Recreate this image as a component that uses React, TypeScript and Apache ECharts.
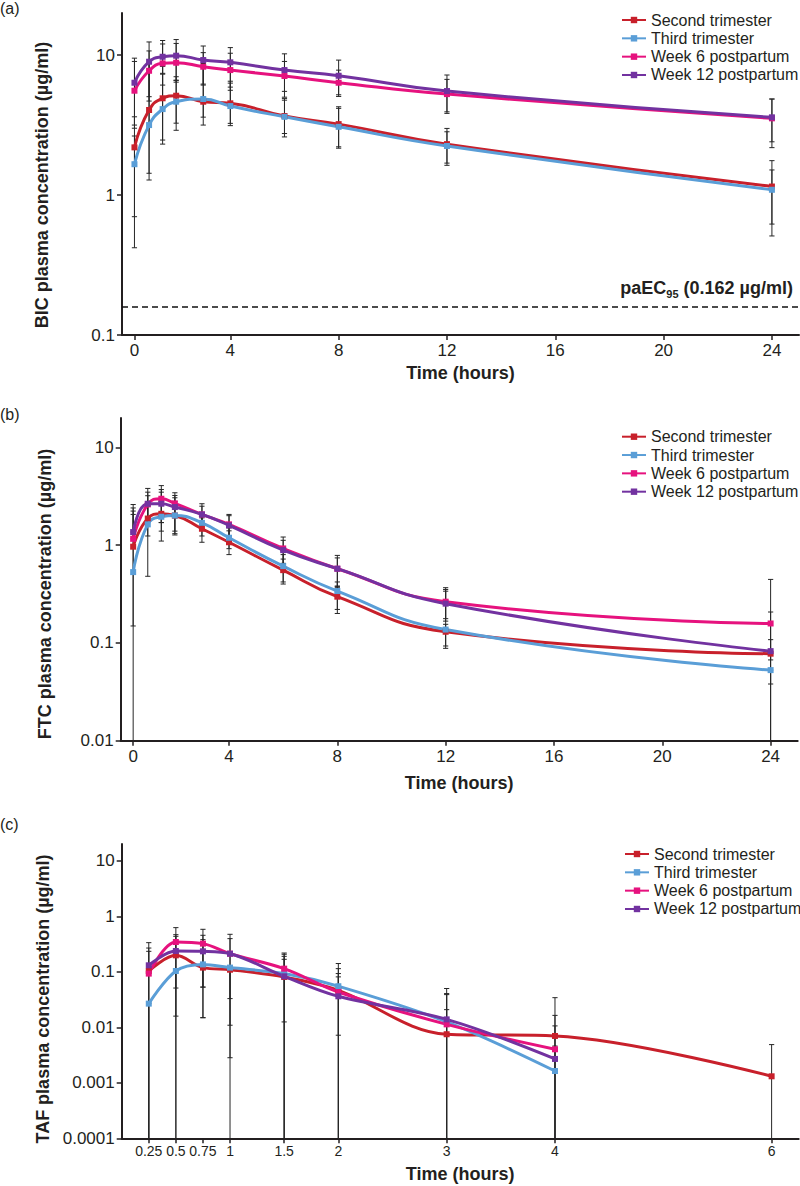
import React, { useEffect, useRef } from 'react';
import * as echarts from 'echarts';

const SERIES_NAMES = ['Second trimester', 'Third trimester', 'Week 6 postpartum', 'Week 12 postpartum'];
const COLORS = ['#C8202B', '#5A9ED7', '#E6127E', '#7232A0'];

// Panels (a) and (b): sampling times (hours)
const TIMES_AB = [0, 1, 1.5, 2, 3, 4, 6, 8, 12, 24];
const ZERO_POS = 0.46; // axis position of the pre-dose (0 h) point and tick
const X_TICKS_AB = [0, 4, 8, 12, 16, 20, 24];

// (a) BIC
const BIC_2T = [2.19, 4.05, 4.91, 5.12, 4.64, 4.52, 3.67, 3.21, 2.31, 1.15];
const BIC_3T = [1.66, 3.16, 4.11, 4.64, 4.85, 4.32, 3.62, 3.07, 2.24, 1.09];
const BIC_W6 = [5.56, 7.72, 8.72, 8.81, 8.25, 7.81, 7.08, 6.34, 5.26, 3.53];
const BIC_W12 = [6.34, 8.96, 9.72, 9.89, 9.21, 8.87, 7.81, 7.11, 5.53, 3.59];
const BIC_2T_HI = [3.62, 8.7, 8.3, 7.0, 8.2, 6.5, 4.9, 4.27, 2.99, 1.76];
const BIC_2T_LO = [0.7, 1.43, 2.47, 3.26, 3.6, 3.25, 2.75, 2.21, 1.69, 0.62];
const BIC_3T_HI = [2.64, 7.8, 7.3, 6.6, 8.7, 6.3, 4.76, 4.16, 2.83, 1.51];
const BIC_3T_LO = [0.42, 1.28, 2.31, 2.9, 3.16, 3.13, 2.6, 2.16, 1.63, 0.51];
const BIC_W6_HI = [9.0, 10.7, 12.0, 12.1, 10.4, 10.3, 9.0, 7.8, 6.7, 4.85];
const BIC_W6_LO = [3.0, 4.69, 6.1, 6.4, 6.1, 5.6, 5.0, 5.06, 3.93, 2.4];
const BIC_W12_HI = [9.5, 12.4, 12.7, 12.9, 11.6, 11.3, 10.2, 9.2, 7.2, 4.85];
const BIC_W12_LO = [3.16, 5.04, 7.4, 6.6, 6.2, 5.9, 5.5, 5.2, 3.83, 2.18];
const BIC_PAEC95 = 0.162;

// (b) FTC
const FTC_2T = [0.964, 1.87, 2.09, 2.01, 1.47, 1.07, 0.555, 0.297, 0.13, 0.0776];
const FTC_3T = [0.53, 1.63, 1.95, 2.01, 1.69, 1.19, 0.61, 0.339, 0.137, 0.0527];
const FTC_W6 = [1.16, 2.61, 2.98, 2.67, 2.06, 1.63, 0.925, 0.574, 0.264, 0.158];
const FTC_W12 = [1.36, 2.65, 2.65, 2.45, 2.06, 1.59, 0.889, 0.574, 0.252, 0.0824];
const FTC_2T_HI = [2.23, 3.2, 3.48, 3.05, 1.9, 1.4, 0.72, 0.38, 0.338, 0.108];
const FTC_2T_LO = [0.149, 1.24, 1.1, 1.27, 1.07, 0.8, 0.4, 0.2, 0.088, 0.038];
const FTC_3T_HI = [2.06, 2.6, 2.8, 2.8, 2.1, 1.5, 0.8, 0.42, 0.155, 0.0527];
const FTC_3T_LO = [null, 0.48, 1.39, 1.31, 1.24, 0.92, 0.42, 0.22, 0.093, null];
const FTC_W6_HI = [2.4, 3.48, 4.06, 3.43, 2.65, 2.06, 1.21, 0.785, 0.367, 0.446];
const FTC_W6_LO = [1.16, 1.9, 1.7, 1.9, 1.6, 1.2, 0.65, 0.38, 0.177, null];
const FTC_W12_HI = [2.6, 3.8, 3.7, 3.22, 2.5, 2.0, 1.12, 0.74, 0.352, 0.207];
const FTC_W12_LO = [1.36, 1.9, 1.7, 1.39, 1.6, 1.2, 0.65, 0.367, 0.167, 0.067];

// (c) TAF
const TIMES_C = [0.25, 0.5, 0.75, 1, 1.5, 2, 3, 4, 6];
const TAF_2T = [0.1035, 0.198, 0.119, 0.109, 0.0807, 0.0464, 0.0075, 0.00698, 0.00131];
const TAF_3T = [0.0267, 0.1035, 0.136, 0.119, 0.093, 0.055, 0.0125, 0.00163, null];
const TAF_W6 = [0.0928, 0.344, 0.322, 0.212, 0.114, 0.0433, 0.0113, 0.00402, null];
const TAF_W12 = [0.131, 0.237, 0.234, 0.212, 0.083, 0.0362, 0.0139, 0.00269, null];
const TAF_2T_HI = [0.268, 0.436, 0.38, 0.109, 0.19, 0.114, 0.0208, 0.0342, 0.00488];
const TAF_2T_LO = [null, 0.0159, 0.0149, 0.00283, null, null, null, null, null];
const TAF_3T_HI = [0.0267, 0.1035, 0.136, 0.119, 0.168, 0.141, 0.0388, 0.0046, null];
const TAF_3T_LO = [null, 0.051, 0.053, 0.0329, null, 0.0072, null, null, null];
const TAF_W6_HI = [0.234, 0.625, 0.583, 0.474, 0.218, 0.093, 0.0405, 0.0164, null];
const TAF_W6_LO = [null, null, 0.053, null, null, null, null, null, null];
const TAF_W12_HI = [0.335, 0.467, 0.455, 0.396, 0.207, 0.081, 0.05, 0.0106, null];
const TAF_W12_LO = [null, null, 0.0149, 0.0109, 0.0125, null, null, null, null];

const Y_TICKS_A = [0.1, 1, 10];
const Y_TICKS_B = [0.01, 0.1, 1, 10];
const Y_TICKS_C = [0.0001, 0.001, 0.01, 0.1, 1, 10];
const X_TICKS_C = [0.25, 0.5, 0.75, 1, 1.5, 2, 3, 4, 6];

const FONT = '"Liberation Sans", Arial, Helvetica, sans-serif';
const INK = '#231f20';

const mapAB = (t: number) => (t === 0 ? ZERO_POS : t);
const mapC = (t: number) => t;

const fmtNum = (v: number) => String(+Number(v).toPrecision(6));

function App() {
  const ref = useRef<HTMLDivElement>(null);

  useEffect(() => {
    if (!ref.current) return;
    const chart = echarts.init(ref.current, null, { renderer: 'svg' });

    const panels = [
      {
        times: TIMES_AB, mapX: mapAB, ymin: 0.1, ymax: 20, xmax: 25, smooth: 0.5,
        means: [BIC_2T, BIC_3T, BIC_W6, BIC_W12],
        his: [BIC_2T_HI, BIC_3T_HI, BIC_W6_HI, BIC_W12_HI],
        los: [BIC_2T_LO, BIC_3T_LO, BIC_W6_LO, BIC_W12_LO],
        grid: { left: 122, top: 12.9, width: 677, height: 322.1 },
        yTicks: Y_TICKS_A, xTicks: X_TICKS_AB.map(mapAB), xFont: 17, nameGap: 29,
      },
      {
        times: TIMES_AB, mapX: mapAB, ymin: 0.01, ymax: 20, xmax: 25, smooth: 0.5,
        means: [FTC_2T, FTC_3T, FTC_W6, FTC_W12],
        his: [FTC_2T_HI, FTC_3T_HI, FTC_W6_HI, FTC_W12_HI],
        los: [FTC_2T_LO, FTC_3T_LO, FTC_W6_LO, FTC_W12_LO],
        grid: { left: 120.7, top: 417.9, width: 677, height: 322.8 },
        yTicks: Y_TICKS_B, xTicks: X_TICKS_AB.map(mapAB), xFont: 17, nameGap: 33,
      },
      {
        times: TIMES_C, mapX: mapC, ymin: 0.0001, ymax: 20, xmax: 6.25, smooth: 0.35,
        means: [TAF_2T, TAF_3T, TAF_W6, TAF_W12],
        his: [TAF_2T_HI, TAF_3T_HI, TAF_W6_HI, TAF_W12_HI],
        los: [TAF_2T_LO, TAF_3T_LO, TAF_W6_LO, TAF_W12_LO],
        grid: { left: 121.7, top: 844.1, width: 677, height: 294.2 },
        yTicks: Y_TICKS_C, xTicks: X_TICKS_C, xFont: 14, nameGap: 27,
      },
    ];

    const grids: any[] = [];
    const xAxes: any[] = [];
    const yAxes: any[] = [];
    const series: any[] = [];

    panels.forEach((p, pi) => {
      grids.push({ ...p.grid, containLabel: false });
      xAxes.push({
        type: 'value', gridIndex: pi, min: 0, max: p.xmax,
        name: 'Time (hours)', nameLocation: 'middle', nameGap: p.nameGap,
        nameTextStyle: { fontFamily: FONT, fontSize: 18, fontWeight: 'bold', color: INK },
        axisLine: { show: true, lineStyle: { color: INK, width: 2 } },
        axisTick: { show: true, length: 5, lineStyle: { color: INK, width: 1.5 }, customValues: p.xTicks },
        axisLabel: {
          customValues: p.xTicks, margin: pi === 2 ? 6 : 7, fontSize: p.xFont, fontFamily: FONT, color: INK,
          formatter: (v: number) => (pi < 2 && Math.abs(v - ZERO_POS) < 1e-6 ? '0' : fmtNum(v)),
        },
        splitLine: { show: false },
      });
      yAxes.push({
        type: 'log', logBase: 10, gridIndex: pi, min: p.ymin, max: p.ymax,
        axisLine: { show: true, onZero: false, lineStyle: { color: INK, width: 2 } },
        axisTick: { show: true, length: 5, lineStyle: { color: INK, width: 1.5 }, customValues: p.yTicks },
        axisLabel: { customValues: p.yTicks, margin: 7, fontSize: 17, fontFamily: FONT, color: INK, formatter: (v: number) => fmtNum(v) },
        splitLine: { show: false },
        minorTick: { show: false },
      });

      // error bars (drawn beneath the lines)
      const rows: number[][] = [];
      p.his.forEach((hiArr, si) => {
        hiArr.forEach((hi, i) => {
          if (hi == null || p.means[si][i] == null) return;
          const lo = p.los[si][i];
          rows.push([p.mapX(p.times[i]), lo == null ? p.ymin : lo, hi, lo == null ? 0 : 1]);
        });
      });
      series.push({
        type: 'custom', xAxisIndex: pi, yAxisIndex: pi, silent: true, z: 1,
        encode: { x: 0, y: [1, 2] },
        data: rows,
        renderItem: (_params: any, api: any) => {
          const x = api.value(0), lo = api.value(1), hi = api.value(2), capLo = api.value(3);
          const a = api.coord([x, hi]);
          const b = api.coord([x, lo]);
          const w = 2.6;
          const st = { stroke: '#262626', lineWidth: 1 };
          const ch: any[] = [
            { type: 'line', shape: { x1: a[0], y1: a[1], x2: b[0], y2: b[1] }, style: st },
            { type: 'line', shape: { x1: a[0] - w, y1: a[1], x2: a[0] + w, y2: a[1] }, style: st },
          ];
          if (capLo) ch.push({ type: 'line', shape: { x1: b[0] - w, y1: b[1], x2: b[0] + w, y2: b[1] }, style: st });
          return { type: 'group', children: ch };
        },
      });

      p.means.forEach((arr, si) => {
        const data = arr
          .map((v, i) => (v == null ? null : [p.mapX(p.times[i]), v]))
          .filter((d) => d != null);
        const s: any = {
          name: SERIES_NAMES[si], type: 'line', xAxisIndex: pi, yAxisIndex: pi, z: 3,
          data, smooth: p.smooth, symbol: 'rect', symbolSize: 6, showSymbol: true,
          lineStyle: { color: COLORS[si], width: 3 }, itemStyle: { color: COLORS[si] },
          emphasis: { disabled: true },
        };
        if (pi === 0 && si === 0) {
          s.markLine = {
            silent: true, symbol: 'none', label: { show: false },
            lineStyle: { color: '#111', type: [6, 4], width: 1.6 },
            data: [{ yAxis: BIC_PAEC95 }],
          };
        }
        series.push(s);
      });
    });

    const legendPos = [
      { left: 621, top: 12 },
      { left: 621, top: 428.7 },
      { left: 624, top: 846 },
    ];

    const yNames = [
      { text: 'BIC plasma concentration (µg/ml)', x: 42, y: 185 },
      { text: 'FTC plasma concentration (µg/ml)', x: 45, y: 594 },
      { text: 'TAF plasma concentration (µg/ml)', x: 42.5, y: 999 },
    ];

    const graphic: any[] = [
      ...['(a)', '(b)', '(c)'].map((t, i) => ({
        type: 'text', x: 0, y: [8, 414, 824][i],
        style: { text: t, font: `16px ${FONT}`, fill: INK, align: 'left', verticalAlign: 'middle' },
      })),
      ...yNames.map((n) => ({
        type: 'text', x: n.x, y: n.y, rotation: Math.PI / 2,
        style: { text: n.text, font: `bold 18px ${FONT}`, fill: INK, align: 'center', verticalAlign: 'middle' },
      })),
      {
        type: 'text', x: 793, y: 289,
        style: {
          text: '{b|paEC}{s|95}{b| (0.162 µg/ml)}',
          align: 'right', verticalAlign: 'middle', fill: INK,
          rich: {
            b: { fontFamily: FONT, fontSize: 18, fontWeight: 'bold', fill: INK, lineHeight: 20, verticalAlign: 'top' },
            s: { fontFamily: FONT, fontSize: 11, fontWeight: 'bold', fill: INK, lineHeight: 12, verticalAlign: 'bottom', padding: [10, 0, 0, 0] },
          },
        },
      },
    ];

    chart.setOption({
      animation: false,
      textStyle: { fontFamily: FONT },
      grid: grids,
      xAxis: xAxes,
      yAxis: yAxes,
      legend: legendPos.map((lp) => ({
        data: SERIES_NAMES, orient: 'vertical', left: lp.left, top: lp.top,
        itemWidth: 24, itemHeight: 8, itemGap: 2.33, selectedMode: false, padding: 0,
        textStyle: { fontSize: 16, fontFamily: FONT, color: INK, lineHeight: 16 },
      })),
      series,
      graphic,
    });

    return () => chart.dispose();
  }, []);

  return <div ref={ref} style={{ position: 'absolute', left: 0, top: 0, width: 800, height: 1186, background: '#fff' }} />;
}

export default App;
